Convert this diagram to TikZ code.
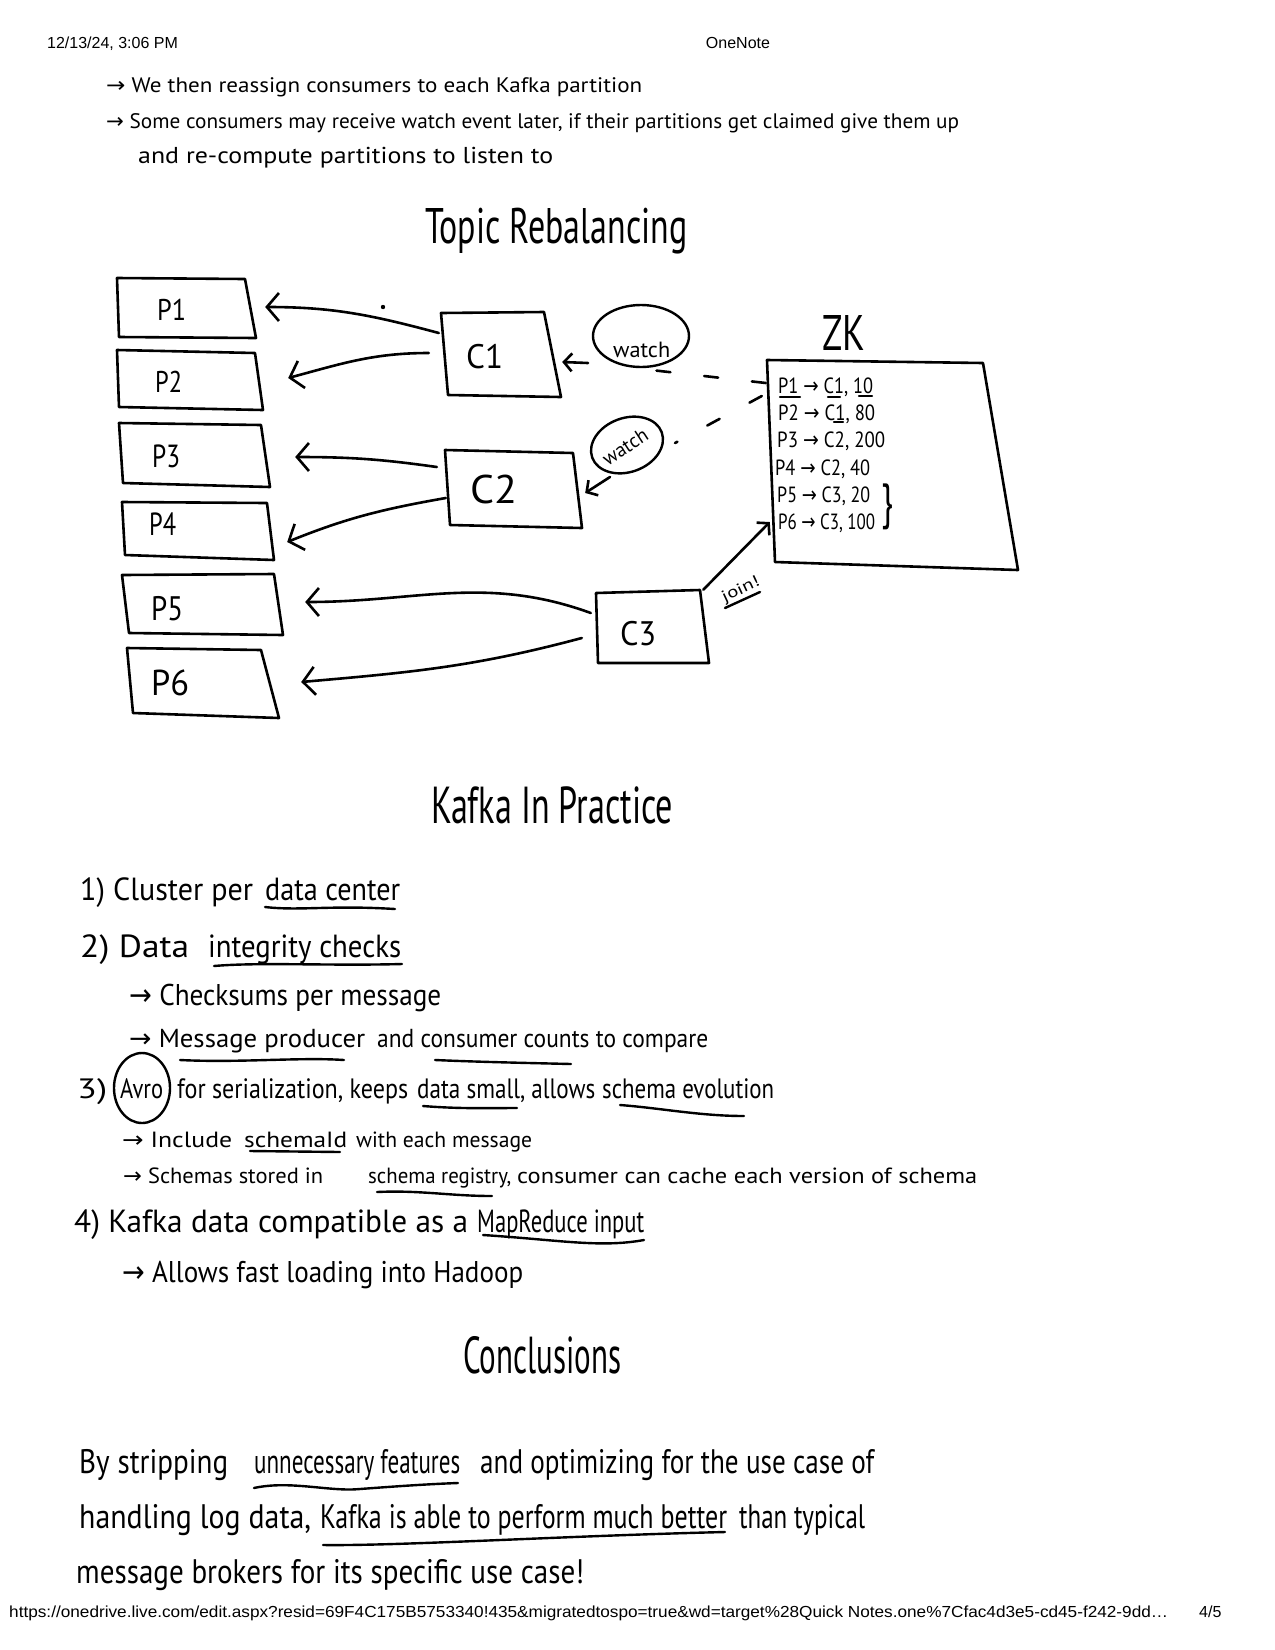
\documentclass[tikz,border=0pt]{standalone}
\usepackage{fontspec}
\setmainfont{PT Sans}
\newfontfamily\uifont{Liberation Sans}
\newfontfamily\symf{DejaVu Sans}
\usetikzlibrary{arrows.meta,calc,shapes.geometric}
\newcommand{\hw}[2]{\resizebox{#1}{\height}{#2}}
\newcommand{\fsz}[1]{\fontsize{#1}{#1}\selectfont}
\newcommand{\ar}{{\symf →}}
\begin{document}
\begin{tikzpicture}[x=1pt,y=-1pt,
  pen/.style={line width=2.6pt,line cap=round,line join=round},
  ink/.style={line width=2.4pt,line cap=round,line join=round},
  anch/.style={draw=none,rectangle,inner sep=0pt},
  hand/.style={anchor=base west,inner sep=0pt,font=\fsz{#1}},
  ui/.style={inner sep=0pt,font=\uifont\fsz{16}},
  bubble/.style={draw,ellipse,line width=2.4pt,inner sep=0pt},
  big/.style={pen,-{Straight Barb[length=12pt,width=28pt]}},
  small/.style={pen,-{Straight Barb[length=8pt,width=18pt]}},
  dsh/.style={pen,dash pattern=on 14pt off 34pt},
]
\fill[white] (0,0) rectangle (1275,1650);
\useasboundingbox (0,0) rectangle (1275,1650);

% header / footer
\node[ui,anchor=base west] (hdate) at (47,48) {12/13/24, 3:06 PM};
\node[ui,anchor=base] (happ) at (738,48) {OneNote};
\node[ui,anchor=base west] (furl) at (9,1617) {\hw{1159pt}{https://onedrive.live.com/edit.aspx?resid=69F4C175B5753340!435\&migratedtospo=true\&wd=target\%28Quick Notes.one\%7Cfac4d3e5-cd45-f242-9dd…}};
\node[ui,anchor=base west] (fpage) at (1199,1617) {4/5};

% top notes
\node[hand=21] (t1) at (106,92) {\hw{536pt}{\ar{} We then reassign consumers to each Kafka partition}};
\node[hand=21] (t2) at (106,128) {\hw{853pt}{\ar{} Some consumers may receive watch event later, if their partitions get claimed give them up}};
\node[hand=23] (t3) at (138,163) {\hw{415pt}{and re-compute partitions to listen to}};

% headings
\node[hand=50] (h1) at (425,243) {\hw{262pt}{Topic Rebalancing}};
\node[hand=52] (h2) at (431,823) {\hw{242pt}{Kafka In Practice}};
\node[hand=52] (h3) at (463,1373) {\hw{158pt}{Conclusions}};

% partition boxes
\draw[pen] (117,278) -- (245,279) -- (256,338) -- (119,337) -- cycle;
\draw[pen] (117,350) -- (255,353) -- (263,410) -- (119,407) -- cycle;
\draw[pen] (119,423) -- (261,425) -- (270,487) -- (123,483) -- cycle;
\draw[pen] (122,502) -- (267,503) -- (274,560) -- (125,555) -- cycle;
\draw[pen] (122,575) -- (274,574) -- (283,635) -- (129,633) -- cycle;
\draw[pen] (127,648) -- (261,650) -- (279,718) -- (133,713) -- cycle;
\node[anch,minimum width=139pt,minimum height=60pt] (P1) at (186.5,308) {};
\node[anch,minimum width=146pt,minimum height=60pt] (P2) at (190,380) {};
\node[anch,minimum width=151pt,minimum height=64pt] (P3) at (194.5,455) {};
\node[anch,minimum width=152pt,minimum height=58pt] (P4) at (198,531) {};
\node[anch,minimum width=161pt,minimum height=61pt] (P5) at (202.5,604.5) {};
\node[anch,minimum width=152pt,minimum height=70pt] (P6) at (203,683) {};
\node[hand=30] (p1t) at (157,320) {\hw{29pt}{P1}};
\node[hand=30] (p2t) at (155,392) {\hw{27pt}{P2}};
\node[hand=32] (p3t) at (152,467) {\hw{28pt}{P3}};
\node[hand=32] (p4t) at (149,535) {\hw{27pt}{P4}};
\node[hand=34] (p5t) at (151,620) {\hw{32pt}{P5}};
\node[hand=36] (p6t) at (151,695) {\hw{38pt}{P6}};

% consumer boxes
\draw[pen] (441,313) -- (544,312) -- (561,397) -- (448,395) -- cycle;
\draw[pen] (445,450) -- (573,453) -- (582,528) -- (450,525) -- cycle;
\draw[pen] (596,593) -- (700,590) -- (709,663) -- (598,663) -- cycle;
\node[anch,minimum width=120pt,minimum height=85pt] (C1) at (501,354.5) {};
\node[anch,minimum width=137pt,minimum height=78pt] (C2) at (513.5,489) {};
\node[anch,minimum width=113pt,minimum height=73pt] (C3) at (652.5,626.5) {};
\node[hand=34] (c1t) at (466,368) {\hw{37pt}{C1}};
\node[hand=40] (c2t) at (470,503) {\hw{47pt}{C2}};
\node[hand=34] (c3t) at (620,645) {\hw{36pt}{C3}};

% ZK box
\draw[pen] (767,360) -- (983,363) -- (1018,570) -- (775,562) -- cycle;
\node[anch,minimum width=251pt,minimum height=210pt] (ZK) at (892.5,465) {};
\node[hand=50] (zkt) at (822,350) {\hw{43pt}{ZK}};
\node[hand=22] (z1) at (778,393) {\hw{95pt}{P1 \ar{} C1, 10}};
\node[hand=22] (z2) at (778,420) {\hw{97pt}{P2 \ar{} C1, 80}};
\node[hand=22] (z3) at (777,447) {\hw{108pt}{P3 \ar{} C2, 200}};
\node[hand=22] (z4) at (775,475) {\hw{95pt}{P4 \ar{} C2, 40}};
\node[hand=22] (z5) at (777,502) {\hw{93pt}{P5 \ar{} C3, 20}};
\node[hand=22] (z6) at (778,529) {\hw{97pt}{P6 \ar{} C3, 100}};
\node[inner sep=0pt] (zb) at (887,507) {\resizebox*{12pt}{46pt}{\}}};
\draw[ink] (780,397) -- (800,397);
\draw[ink] (828,397) -- (840,397);
\draw[ink] (859,396) -- (872,396);
\draw[ink] (834,422) -- (843,422);

% watch bubbles
\node[bubble,minimum width=96pt,minimum height=62pt] (W1) at (641,336) {};
\node[hand=22] (w1t) at (613,357) {\hw{57pt}{watch}};
\node[bubble,minimum width=74pt,minimum height=54pt,rotate=20] (W2) at (627,445) {};
\node[hand=20,anchor=center,rotate=33] (w2t) at (625,447) {\hw{50pt}{watch}};
\fill (383,307) circle (2.2pt);

% connectors
\draw[big] ($(C1.west)+(-2,-21.5)$) to[out=165,in=0] ($(P1.east)+(9,-1)$);
\draw[big] ($(C1.west)+(-12,-1.5)$) to[out=180,in=15] ($(P2.east)+(25,-2)$);
\draw[big] ($(C2.west)+(-8,-22)$) to[out=172,in=0] ($(P3.east)+(25,2)$);
\draw[big] ($(C2.west)+(1,9)$) to[out=190,in=22] ($(P4.east)+(13,11)$);
\draw[big] ($(C3.west)+(-5,-13.5)$) to[out=160,in=0] ($(P5.east)+(22,-2.5)$);
\draw[big] ($(C3.west)+(-14,11.5)$) to[out=195,in=5] ($(P6.east)+(22,-1)$);
\draw[small] ($(W1.center)+(-53,27)$) -- ($(C1.east)+(1,7.5)$);
\draw[small] ($(W2.center)+(-17,32)$) -- ($(C2.east)+(3,4)$);
\draw[small] ($(C3.north east)+(-6,0)$) -- ($(ZK.west)+(3,57)$);
\draw[dsh] ($(ZK.west)+(-1,-82)$) -- ($(W1.center)+(10,34)$);
\draw[dsh] ($(ZK.west)+(-5,-69)$) -- ($(W2.center)+(48,-2)$);
\node[hand=16,anchor=center,rotate=25] (joint) at (741,590) {\hw{40pt}{join!}};
\draw[ink] (725,608) -- (760,592);

% Kafka in practice list
\node[hand=32] (l1a) at (80,900) {\hw{173pt}{1) Cluster per}};
\node[hand=32] (l1b) at (265,900) {\hw{135pt}{data center}};
\node[hand=32] (l2a) at (80,957) {\hw{109pt}{2) Data}};
\node[hand=32] (l2b) at (208,957) {\hw{193pt}{integrity checks}};
\node[hand=30] (l3) at (129,1005) {\hw{312pt}{\ar{} Checksums per message}};
\node[hand=26] (l4a) at (129,1047) {\hw{236pt}{\ar{} Message producer}};
\node[hand=26] (l4b) at (377,1047) {\hw{331pt}{and consumer counts to compare}};
\node[hand=28] (l5a) at (77,1098) {\hw{30pt}{3)}};
\node[hand=28] (l5b) at (120,1098) {\hw{43pt}{Avro}};
\node[hand=28] (l5c) at (177,1098) {\hw{231pt}{for serialization, keeps}};
\node[hand=28] (l5d) at (417,1098) {\hw{178pt}{data small, allows}};
\node[hand=28] (l5e) at (602,1098) {\hw{172pt}{schema evolution}};
\node[hand=22] (l6a) at (122,1147) {\hw{110pt}{\ar{} Include}};
\node[hand=22] (l6b) at (244,1147) {\hw{103pt}{schemaId}};
\node[hand=22] (l6c) at (356,1147) {\hw{176pt}{with each message}};
\node[hand=22] (l7a) at (123,1183) {\hw{200pt}{\ar{} Schemas stored in}};
\node[hand=22] (l7b) at (368,1183) {\hw{143pt}{schema registry,}};
\node[hand=22] (l7c) at (517,1183) {\hw{460pt}{consumer can cache each version of schema}};
\node[hand=32] (l8a) at (74,1232) {\hw{394pt}{4) Kafka data compatible as a}};
\node[hand=32] (l8b) at (477,1232) {\hw{167pt}{MapReduce input}};
\node[hand=30] (l9) at (122,1282) {\hw{401pt}{\ar{} Allows fast loading into Hadoop}};

\draw[ink] (265,907) .. controls (300,911) and (330,905) .. (395,909);
\draw[ink] (214,966) .. controls (260,962) and (330,966) .. (402,964);
\draw[ink] (180,1060) .. controls (240,1063) and (300,1057) .. (344,1060);
\draw[ink] (435,1060) .. controls (480,1062) and (530,1063) .. (571,1064);
\draw[ink] (423,1106) .. controls (460,1109) and (490,1108) .. (517,1108);
\draw[ink] (620,1105) .. controls (660,1108) and (700,1116) .. (744,1116);
\draw[ink] (250,1151) -- (340,1152);
\draw[ink] (377,1192) .. controls (420,1190) and (450,1196) .. (492,1196);
\draw[ink] (483,1235) .. controls (560,1240) and (600,1248) .. (644,1240);
\draw[ink] (142,1088) ellipse [x radius=28pt,y radius=35pt];

% conclusions
\node[hand=34] (cl1a) at (79,1473) {\hw{149pt}{By stripping}};
\node[hand=34] (cl1b) at (254,1473) {\hw{206pt}{unnecessary features}};
\node[hand=34] (cl1c) at (480,1473) {\hw{394pt}{and optimizing for the use case of}};
\node[hand=34] (cl2a) at (79,1528) {\hw{232pt}{handling log data,}};
\node[hand=34] (cl2b) at (320,1528) {\hw{407pt}{Kafka is able to perform much better}};
\node[hand=34] (cl2c) at (739,1528) {\hw{126pt}{than typical}};
\node[hand=34] (cl3) at (76,1583) {\hw{508pt}{message brokers for its specific use case!}};
\draw[ink] (254,1488) .. controls (290,1480) and (330,1492) .. (360,1489) .. controls (400,1486) and (430,1484) .. (458,1483);
\draw[ink] (323,1545) .. controls (400,1546) and (560,1536) .. (725,1532);
\end{tikzpicture}
\end{document}
